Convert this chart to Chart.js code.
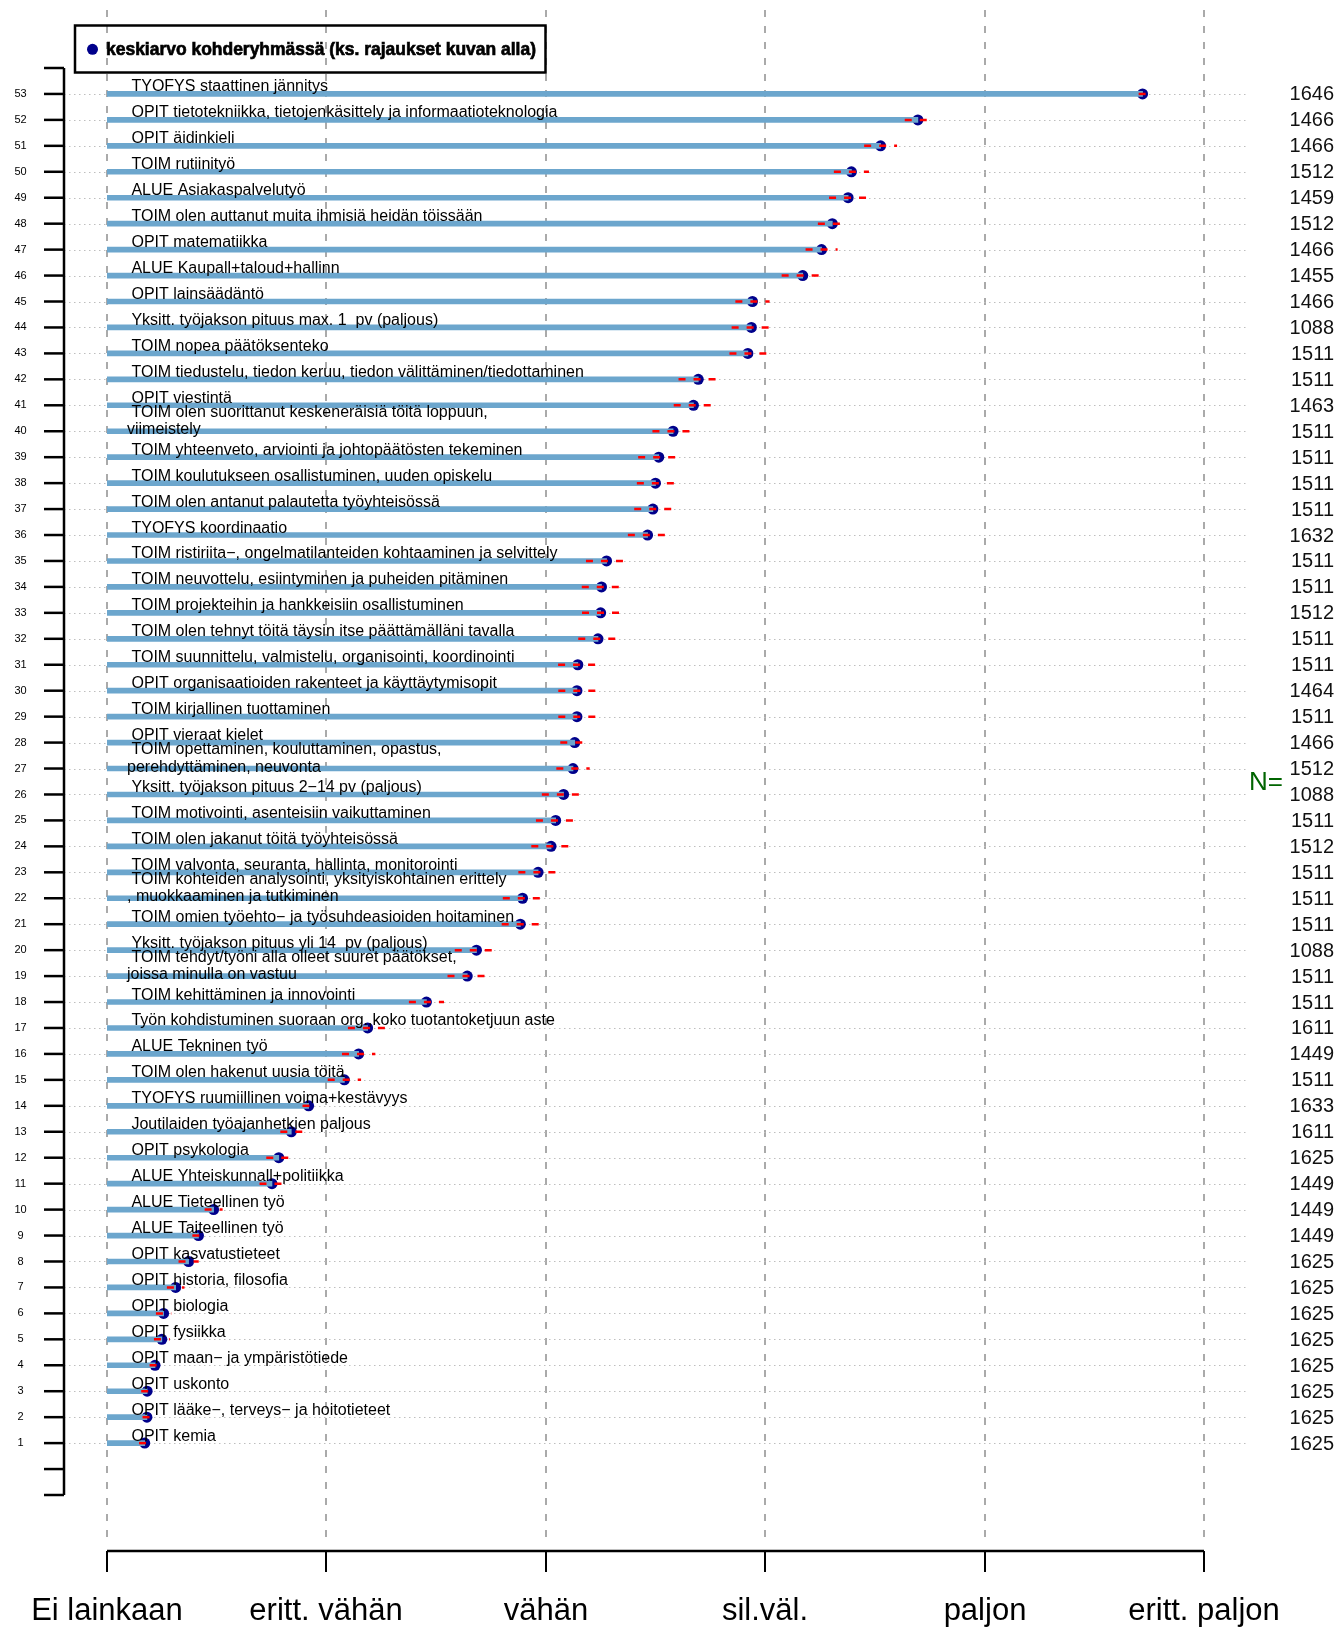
<!DOCTYPE html>
<html><head><meta charset="utf-8">
<script src="https://cdn.jsdelivr.net/npm/chart.js@4"></script>
<style>html,body{margin:0;padding:0;background:#fff}#wrap{width:1337px;height:1627px;position:relative}</style>
</head><body><div id="wrap"><canvas id="c" width="1337" height="1627"></canvas></div>
<script>
const categories = [
 "TYOFYS staattinen jännitys",
 "OPIT tietotekniikka, tietojenkäsittely ja informaatioteknologia",
 "OPIT äidinkieli",
 "TOIM rutiinityö",
 "ALUE Asiakaspalvelutyö",
 "TOIM olen auttanut muita ihmisiä heidän töissään",
 "OPIT matematiikka",
 "ALUE Kaupall+taloud+hallinn",
 "OPIT lainsäädäntö",
 "Yksitt. työjakson pituus max. 1  pv (paljous)",
 "TOIM nopea päätöksenteko",
 "TOIM tiedustelu, tiedon keruu, tiedon välittäminen/tiedottaminen",
 "OPIT viestintä",
 "TOIM olen suorittanut keskeneräisiä töitä loppuun,\nviimeistely",
 "TOIM yhteenveto, arviointi ja johtopäätösten tekeminen",
 "TOIM koulutukseen osallistuminen, uuden opiskelu",
 "TOIM olen antanut palautetta työyhteisössä",
 "TYOFYS koordinaatio",
 "TOIM ristiriita−, ongelmatilanteiden kohtaaminen ja selvittely",
 "TOIM neuvottelu, esiintyminen ja puheiden pitäminen",
 "TOIM projekteihin ja hankkeisiin osallistuminen",
 "TOIM olen tehnyt töitä täysin itse päättämälläni tavalla",
 "TOIM suunnittelu, valmistelu, organisointi, koordinointi",
 "OPIT organisaatioiden rakenteet ja käyttäytymisopit",
 "TOIM kirjallinen tuottaminen",
 "OPIT vieraat kielet",
 "TOIM opettaminen, kouluttaminen, opastus,\nperehdyttäminen, neuvonta",
 "Yksitt. työjakson pituus 2−14 pv (paljous)",
 "TOIM motivointi, asenteisiin vaikuttaminen",
 "TOIM olen jakanut töitä työyhteisössä",
 "TOIM valvonta, seuranta, hallinta, monitorointi",
 "TOIM kohteiden analysointi, yksityiskohtainen erittely\n, muokkaaminen ja tutkiminen",
 "TOIM omien työehto− ja työsuhdeasioiden hoitaminen",
 "Yksitt. työjakson pituus yli 14  pv (paljous)",
 "TOIM tehdyt/työni alla olleet suuret päätökset,\njoissa minulla on vastuu",
 "TOIM kehittäminen ja innovointi",
 "Työn kohdistuminen suoraan org.,koko tuotantoketjuun aste",
 "ALUE Tekninen työ",
 "TOIM olen hakenut uusia töitä",
 "TYOFYS ruumiillinen voima+kestävyys",
 "Joutilaiden työajanhetkien paljous",
 "OPIT psykologia",
 "ALUE Yhteiskunnall+politiikka",
 "ALUE Tieteellinen työ",
 "ALUE Taiteellinen työ",
 "OPIT kasvatustieteet",
 "OPIT historia, filosofia",
 "OPIT biologia",
 "OPIT fysiikka",
 "OPIT maan− ja ympäristötiede",
 "OPIT uskonto",
 "OPIT lääke−, terveys− ja hoitotieteet",
 "OPIT kemia"
];
const means = [5.72, 4.696, 4.526, 4.393, 4.378, 4.306, 4.257, 4.171, 3.942, 3.937,
 3.921, 3.695, 3.673, 3.580, 3.515, 3.500, 3.488, 3.464, 3.277, 3.254,
 3.250, 3.238, 3.146, 3.142, 3.142, 3.132, 3.124, 3.081, 3.045, 3.024,
 2.965, 2.894, 2.884, 2.684, 2.642, 2.456, 2.188, 2.147, 2.082, 1.919,
 1.840, 1.783, 1.752, 1.486, 1.417, 1.372, 1.313, 1.258, 1.250, 1.219,
 1.183, 1.182, 1.172];
const ciMargins = [0.018, 0.06, 0.075, 0.08, 0.087, 0.066, 0.073, 0.096, 0.078, 0.09,
 0.084, 0.09, 0.09, 0.094, 0.094, 0.085, 0.085, 0.09, 0.094, 0.09,
 0.085, 0.09, 0.09, 0.085, 0.085, 0.066, 0.076, 0.099, 0.09, 0.09,
 0.09, 0.09, 0.085, 0.099, 0.09, 0.08, 0.09, 0.076, 0.076, 0.028,
 0.05, 0.057, 0.057, 0.041, 0.028, 0.046, 0.04, 0.035, 0.036, 0.025,
 0.027, 0.02, 0.026];
const nValues = [1646, 1466, 1466, 1512, 1459, 1512, 1466, 1455, 1466, 1088,
 1511, 1511, 1463, 1511, 1511, 1511, 1511, 1632, 1511, 1511,
 1512, 1511, 1511, 1464, 1511, 1466, 1512, 1088, 1511, 1512,
 1511, 1511, 1511, 1088, 1511, 1511, 1611, 1449, 1511, 1633,
 1611, 1625, 1449, 1449, 1449, 1625, 1625, 1625, 1625, 1625,
 1625, 1625, 1625];
const scaleLabels = ["Ei lainkaan", "eritt. vähän", "vähän", "sil.väl.", "paljon", "eritt. paljon"];
const legendLabel = "keskiarvo kohderyhmässä (ks. rajaukset kuvan alla)";
const nTitle = "N=";

const rowIndex = categories.map((_, i) => categories.length - i);
const FONT = '"Liberation Sans", Arial, Helvetica, sans-serif';

const decor = {
  id: 'decor',
  beforeDatasetsDraw(chart) {
    const ctx = chart.ctx, xs = chart.scales.x, ys = chart.scales.y;
    ctx.save();
    // dashed vertical reference lines
    ctx.strokeStyle = '#AAAAAA'; ctx.lineWidth = 2; ctx.setLineDash([7, 9]);
    scaleLabels.forEach((_, k) => {
      const px = Math.round(xs.getPixelForValue(k + 1));
      ctx.beginPath(); ctx.moveTo(px, 10); ctx.lineTo(px, 1546); ctx.stroke();
    });
    // dotted row lines
    ctx.strokeStyle = '#BEBEBE'; ctx.lineWidth = 1; ctx.setLineDash([1.5, 3.5]);
    rowIndex.forEach(r => {
      const py = Math.round(ys.getPixelForValue(r)) + 0.5;
      ctx.beginPath(); ctx.moveTo(64, py); ctx.lineTo(1246, py); ctx.stroke();
    });
    ctx.setLineDash([]);
    // left axis
    ctx.strokeStyle = '#000'; ctx.lineWidth = 2.5;
    ctx.beginPath(); ctx.moveTo(64, ys.getPixelForValue(ys.max)); ctx.lineTo(64, ys.getPixelForValue(ys.min)); ctx.stroke();
    for (let v = ys.min; v <= ys.max; v++) {
      const py = ys.getPixelForValue(v);
      ctx.beginPath(); ctx.moveTo(44, py); ctx.lineTo(64, py); ctx.stroke();
    }
    ctx.fillStyle = '#000'; ctx.font = '11px ' + FONT; ctx.textAlign = 'center'; ctx.textBaseline = 'middle';
    rowIndex.forEach(r => ctx.fillText(String(r), 20.5, ys.getPixelForValue(r)));
    // bottom axis
    const ay = 1551;
    ctx.lineWidth = 2.5;
    ctx.beginPath(); ctx.moveTo(xs.getPixelForValue(1), ay); ctx.lineTo(xs.getPixelForValue(scaleLabels.length), ay); ctx.stroke();
    ctx.lineWidth = 2;
    ctx.font = '31px ' + FONT; ctx.textBaseline = 'alphabetic';
    scaleLabels.forEach((lab, k) => {
      const px = Math.round(xs.getPixelForValue(k + 1));
      ctx.beginPath(); ctx.moveTo(px, ay); ctx.lineTo(px, 1572); ctx.stroke();
      ctx.fillText(lab, px, 1620);
    });
    // N column
    ctx.textAlign = 'right'; ctx.textBaseline = 'middle'; ctx.font = '20px ' + FONT; ctx.fillStyle = '#111';
    nValues.forEach((n, i) => ctx.fillText(String(n), 1334, ys.getPixelForValue(rowIndex[i]) + 1));
    ctx.textAlign = 'left'; ctx.fillStyle = '#006400'; ctx.font = '26px ' + FONT;
    ctx.fillText(nTitle, 1249, ys.getPixelForValue(26.5) + 1);
    ctx.restore();
  },
  afterDatasetsDraw(chart) {
    const ctx = chart.ctx, xs = chart.scales.x, ys = chart.scales.y;
    ctx.save();
    // category labels (drawn over the bars)
    ctx.fillStyle = '#000'; ctx.font = '16px ' + FONT; ctx.textBaseline = 'alphabetic'; ctx.textAlign = 'left';
    categories.forEach((lab, i) => {
      const py = ys.getPixelForValue(rowIndex[i]);
      const lines = lab.split('\n');
      if (lines.length === 1) {
        ctx.fillText(' ' + lines[0], 127, py - 2.5);
      } else {
        ctx.fillText(' ' + lines[0], 127, py + 3 - 17.5);
        ctx.fillText(lines[1], 127, py + 3);
      }
    });
    // confidence intervals
    ctx.strokeStyle = '#FF0000'; ctx.lineWidth = 2.5; ctx.setLineDash([7, 8]);
    means.forEach((m, i) => {
      const py = ys.getPixelForValue(rowIndex[i]);
      ctx.beginPath();
      ctx.moveTo(xs.getPixelForValue(m - ciMargins[i]), py);
      ctx.lineTo(xs.getPixelForValue(m + ciMargins[i]), py);
      ctx.stroke();
    });
    ctx.setLineDash([]);
    // legend
    ctx.strokeStyle = '#000'; ctx.lineWidth = 2.5;
    ctx.strokeRect(75, 25.5, 470.5, 47);
    ctx.fillStyle = '#00008B';
    ctx.beginPath(); ctx.arc(92.5, 49.3, 5.5, 0, Math.PI * 2); ctx.fill();
    ctx.fillStyle = '#000'; ctx.font = 'bold 19px ' + FONT; ctx.textBaseline = 'middle'; ctx.textAlign = 'left';
    const w = ctx.measureText(legendLabel).width;
    ctx.translate(106, 49.5); ctx.scale(430 / w, 1);
    ctx.strokeStyle = '#000'; ctx.lineWidth = 0.7;
    ctx.fillText(legendLabel, 0, 0);
    ctx.strokeText(legendLabel, 0, 0);
    ctx.restore();
  }
};

new Chart(document.getElementById('c'), {
  type: 'bar',
  data: {
    datasets: [
      {
        type: 'bar', indexAxis: 'y', order: 1,
        data: means.map((m, i) => ({ x: [1, m], y: rowIndex[i] })),
        backgroundColor: '#6CA6CD', borderWidth: 0, barThickness: 5, borderSkipped: false
      },
      {
        type: 'scatter', order: 2,
        data: means.map((m, i) => ({ x: m, y: rowIndex[i] })),
        pointRadius: 5.5, pointBackgroundColor: '#00008B', pointBorderWidth: 0, showLine: false
      }
    ]
  },
  options: {
    responsive: false, animation: false,
    layout: { padding: { left: 107, right: 133, top: 68, bottom: 132 } },
    plugins: { legend: { display: false }, tooltip: { enabled: false } },
    scales: {
      x: { type: 'linear', min: 1, max: 6, display: false, offset: false },
      y: { type: 'linear', min: -1, max: 54, display: false, offset: false }
    }
  },
  plugins: [decor]
});
</script></body></html>
